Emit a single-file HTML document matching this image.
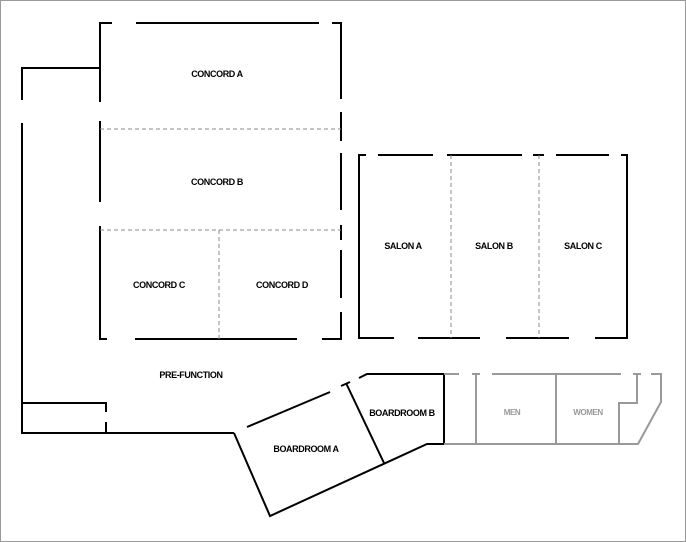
<!DOCTYPE html>
<html><head><style>
html,body{margin:0;padding:0;background:#fff;}
svg{display:block;}
text{font-family:"Liberation Sans",sans-serif;font-size:9px;font-weight:bold;text-anchor:middle;letter-spacing:-0.4px;}
</style></head><body>
<svg width="686" height="542" viewBox="0 0 686 542">
<rect x="0.5" y="0.5" width="685" height="541" fill="#fff" stroke="#999" stroke-width="1"/>
<g stroke="#000" stroke-width="2" fill="none" stroke-linecap="butt">
<!-- Concord outer -->
<polyline points="112,23 100,23 100,102"/>
<line x1="136" y1="23" x2="319" y2="23"/>
<polyline points="332,23 341,23 341,99"/>
<line x1="341" y1="112" x2="341" y2="141"/>
<line x1="341" y1="153" x2="341" y2="210"/>
<line x1="341" y1="225" x2="341" y2="240"/>
<line x1="341" y1="250" x2="341" y2="298"/>
<polyline points="341,312 341,339 322,339"/>
<line x1="100" y1="121" x2="100" y2="202"/>
<polyline points="100,226 100,339 107,339"/>
<line x1="135" y1="339" x2="297" y2="339"/>
<!-- left outer -->
<polyline points="22,100 22,68 100,68"/>
<polyline points="22,123 22,433 234,433"/>
<polyline points="22,403 106,403 106,412"/>
<line x1="106" y1="422" x2="106" y2="433"/>
<!-- Salon -->
<polyline points="366,155 359,155 359,338 394,338"/>
<line x1="378" y1="155" x2="433" y2="155"/>
<line x1="447" y1="155" x2="522" y2="155"/>
<line x1="533" y1="155" x2="544" y2="155"/>
<line x1="556" y1="155" x2="609" y2="155"/>
<polyline points="621,155 627,155 627,338 595,338"/>
<line x1="418" y1="338" x2="480" y2="338"/>
<line x1="506" y1="338" x2="569" y2="338"/>
<!-- Boardrooms -->
<line x1="247" y1="427" x2="330" y2="392"/>
<line x1="341" y1="386" x2="350" y2="382"/>
<polyline points="359,378 367,374 444,374"/>
<polyline points="234,433 270,516 427,444 444,444 444,374"/>
<line x1="346" y1="383" x2="384" y2="463"/>
</g>
<g stroke="#888" stroke-width="1" fill="none" stroke-dasharray="4,3">
<line x1="100" y1="129" x2="341" y2="129"/>
<line x1="100" y1="230" x2="341" y2="230"/>
<line x1="219" y1="230" x2="219" y2="339"/>
<line x1="451" y1="155" x2="451" y2="338"/>
<line x1="539" y1="155" x2="539" y2="338"/>
</g>
<g stroke="#999" stroke-width="2" fill="none">
<line x1="444" y1="374" x2="459" y2="374"/>
<line x1="472" y1="374" x2="480" y2="374"/>
<line x1="476" y1="374" x2="476" y2="444"/>
<line x1="492" y1="374" x2="621" y2="374"/>
<line x1="556" y1="374" x2="556" y2="444"/>
<line x1="633" y1="374" x2="641" y2="374"/>
<polyline points="637,374 637,403 619,403 619,444"/>
<polyline points="651,374 661,374 661,402 638,444 444,444"/>
</g>
<text x="217" y="77">CONCORD A</text>
<text x="217" y="185">CONCORD B</text>
<text x="159" y="288">CONCORD C</text>
<text x="282" y="288">CONCORD D</text>
<text x="403" y="249">SALON A</text>
<text x="494" y="249">SALON B</text>
<text x="583" y="249">SALON C</text>
<text x="191" y="378">PRE-FUNCTION</text>
<text x="402" y="416">BOARDROOM B</text>
<text x="306" y="452">BOARDROOM A</text>
<text x="512" y="415" fill="#999" style="font-size:8px">MEN</text>
<text x="588" y="415" fill="#999" style="font-size:8px">WOMEN</text>
</svg>
</body></html>
